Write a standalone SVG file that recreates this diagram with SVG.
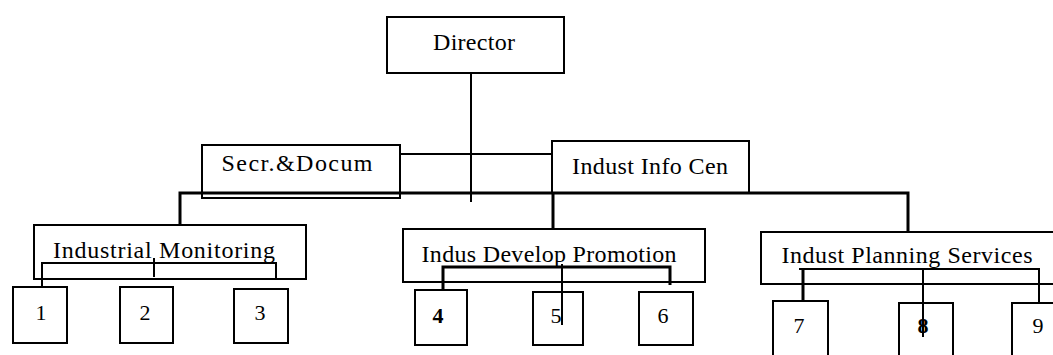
<svg xmlns="http://www.w3.org/2000/svg" width="1053" height="355" viewBox="0 0 1053 355">
<style>
.box{fill:#fff;stroke:#000;stroke-width:2}
.lbl{font-family:"Liberation Serif","Times New Roman",serif;font-size:24px;fill:#000;text-anchor:middle}
.num{font-family:"Liberation Serif","Times New Roman",serif;font-size:22px;fill:#000;text-anchor:middle}
.ln{fill:none;stroke:#000;stroke-width:2}
.thick{fill:none;stroke:#000;stroke-width:3}
</style>
<rect width="1053" height="355" fill="#fff"/>
<g id="n-director"><rect class="box" x="387" y="17" width="177" height="56"/><text class="lbl" x="474" y="50" textLength="82" lengthAdjust="spacing">Director</text></g>
<g id="n-secr"><rect class="box" x="202" y="145" width="198" height="53"/><text class="lbl" x="297" y="171" textLength="151" lengthAdjust="spacing">Secr.&amp;Docum</text></g>
<g id="n-info"><rect class="box" x="552" y="141" width="197" height="52"/><text class="lbl" x="650" y="174" textLength="156" lengthAdjust="spacing">Indust Info Cen</text></g>
<g id="n-monitoring"><rect class="box" x="34" y="225" width="272" height="54"/><text class="lbl" x="164" y="258" textLength="222" lengthAdjust="spacing">Industrial Monitoring</text></g>
<g id="n-promotion"><rect class="box" x="403" y="229" width="302" height="53"/><text class="lbl" x="549" y="262" textLength="255" lengthAdjust="spacing">Indus Develop Promotion</text></g>
<g id="n-planning"><rect class="box" x="761" y="232" width="300" height="52"/><text class="lbl" x="907" y="263" textLength="251" lengthAdjust="spacing">Indust Planning Services</text></g>
<g id="n-1"><rect class="box" x="13" y="287" width="54" height="56"/><text class="num" x="41" y="320">1</text></g>
<g id="n-2"><rect class="box" x="120" y="287" width="53" height="56"/><text class="num" x="145" y="320">2</text></g>
<g id="n-3"><rect class="box" x="234" y="289" width="54" height="54"/><text class="num" x="260" y="320">3</text></g>
<g id="n-4"><rect class="box" x="415" y="290" width="52" height="55"/><text class="num" x="438" y="323" font-weight="bold">4</text></g>
<g id="n-5"><rect class="box" x="533" y="292" width="50" height="53"/><text class="num" x="556" y="323">5</text></g>
<g id="n-6"><rect class="box" x="639" y="292" width="54" height="53"/><text class="num" x="663" y="323">6</text></g>
<g id="n-7"><rect class="box" x="773" y="301" width="55" height="60"/><text class="num" x="799" y="333">7</text></g>
<g id="n-8"><rect class="box" x="899" y="303" width="54" height="58"/><text class="num" x="923" y="333" font-weight="bold">8</text></g>
<g id="n-9"><rect class="box" x="1012" y="303" width="50" height="58"/><text class="num" x="1038" y="333">9</text></g>
<g id="connectors">
<path class="ln" d="M471,73 V202"/>
<path class="ln" d="M400,154 H552"/>
<path class="thick" d="M180,225 V193 H908 V232"/>
<path class="thick" d="M553,193 V229"/>
<path class="ln" d="M42,287 V263 H276 V280"/>
<path class="ln" d="M154,258 V277"/>
<path class="thick" d="M443,290 V267 H670 V285"/>
<path class="ln" d="M562,264 V325"/>
<path class="thick" d="M803,300 V269"/>
<path class="ln" d="M799,269 H1039 V302"/>
<path class="ln" d="M923,269 V337"/>
</g>
</svg>
